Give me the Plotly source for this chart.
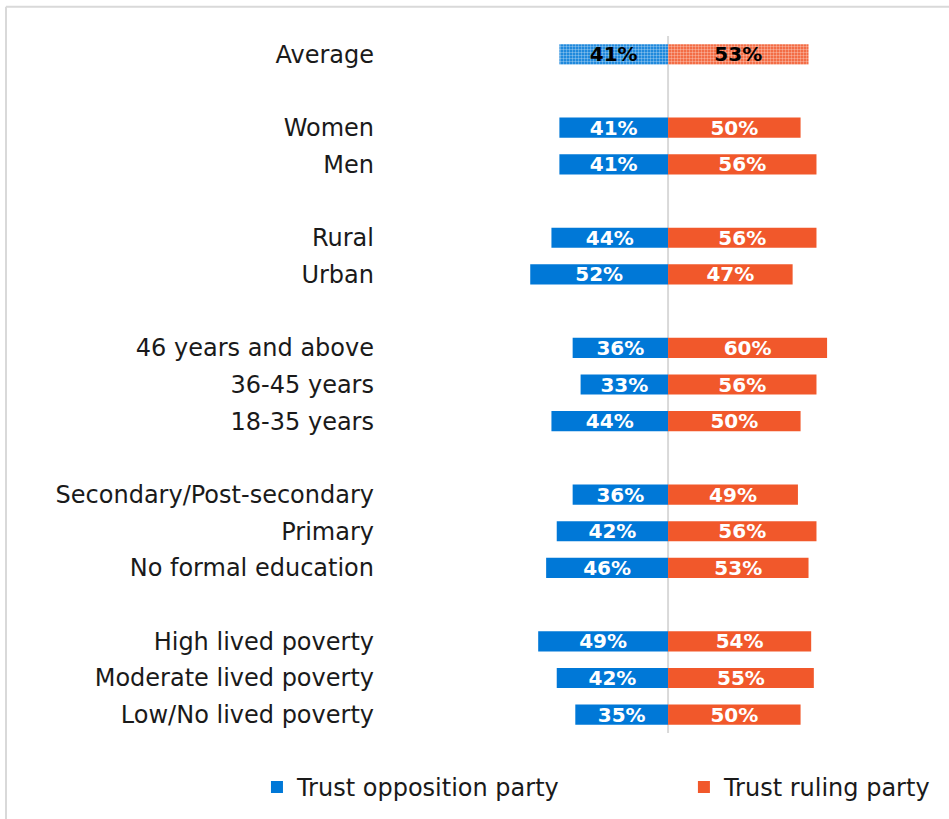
import plotly.graph_objects as go

# Survey groups (top to bottom); a blank row separates each group
categories = [
    "Average",
    "Women", "Men",
    "Rural", "Urban",
    "46 years and above", "36-45 years", "18-35 years",
    "Secondary/Post-secondary", "Primary", "No formal education",
    "High lived poverty", "Moderate lived poverty", "Low/No lived poverty",
]
group_sizes = [1, 2, 2, 3, 3, 3]
opposition = [41, 41, 41, 44, 52, 36, 33, 44, 36, 42, 46, 49, 42, 35]
ruling = [53, 50, 56, 56, 47, 60, 56, 50, 49, 56, 53, 54, 55, 50]

BLUE = "#0078D7"
RED = "#F1582B"
FONT = "DejaVu Sans"
BAR_W = 0.55

# Row slot for each category, leaving one empty slot between groups
slots = []
pos = 0
for size in group_sizes:
    for _ in range(size):
        slots.append(pos)
        pos += 1
    pos += 1
last_slot = max(slots)

avg_idx = [i for i, c in enumerate(categories) if c == "Average"]
grp_idx = [i for i, c in enumerate(categories) if c != "Average"]


def pick(values, idx):
    return [values[i] for i in idx]


def bar(name, values, idx, color, sign, text_color, patterned, legend, legend_ref):
    marker = dict(color=color, line=dict(width=0))
    if patterned:
        marker["pattern"] = dict(shape=".", fgcolor="white", bgcolor=color,
                                 size=3, solidity=0.5)
    return go.Bar(
        name=name,
        y=pick(slots, idx), x=[sign * v for v in pick(values, idx)],
        orientation="h", marker=marker,
        text=[f"{v}%" for v in pick(values, idx)],
        textposition="inside", insidetextanchor="middle", textangle=0,
        textfont=dict(family=FONT, size=20, color=text_color, weight="bold"),
        width=BAR_W, hoverinfo="skip", showlegend=legend, legend=legend_ref,
    )


fig = go.Figure()
fig.add_trace(bar("Trust opposition party", opposition, grp_idx, BLUE, -1, "white", False, True, "legend"))
fig.add_trace(bar("Trust ruling party", ruling, grp_idx, RED, 1, "white", False, True, "legend2"))
fig.add_trace(bar("Average opposition", opposition, avg_idx, BLUE, -1, "black", True, False, "legend"))
fig.add_trace(bar("Average ruling", ruling, avg_idx, RED, 1, "black", True, False, "legend2"))

# Central divider
fig.add_shape(type="line", xref="x", yref="paper", x0=0, x1=0, y0=0, y1=1,
              line=dict(color="#D9D9D9", width=2), layer="below")
# Light frame along the top and left edges
fig.add_shape(type="line", xref="paper", yref="paper", x0=-0.672, x1=1.05,
              y0=1.042, y1=1.042, line=dict(color="#D9D9D9", width=2))
fig.add_shape(type="line", xref="paper", yref="paper", x0=-0.672, x1=-0.672,
              y0=1.042, y1=-0.2, line=dict(color="#D9D9D9", width=2))

legend_style = dict(
    orientation="h", xanchor="left", y=-0.078, yanchor="middle",
    font=dict(family=FONT, size=24, color="#1a1a1a"),
    bgcolor="rgba(0,0,0,0)", itemclick=False, itemdoubleclick=False,
)

fig.update_layout(
    width=949, height=819,
    margin=dict(l=385, r=0, t=36, b=86),
    paper_bgcolor="white", plot_bgcolor="white",
    barmode="overlay",
    uniformtext=dict(minsize=20, mode="show"),
    font=dict(family=FONT, size=24, color="#1a1a1a"),
    xaxis=dict(range=[-106.8, 106.0], visible=False, fixedrange=True),
    yaxis=dict(
        range=[last_slot + 0.5, -0.5],
        tickvals=slots, ticktext=categories,
        showgrid=False, zeroline=False, showline=False,
        ticks="", ticklabelstandoff=10, automargin=False,
        tickfont=dict(family=FONT, size=24, color="#1a1a1a"),
    ),
    legend=dict(x=-0.227, **legend_style),
    legend2=dict(x=0.530, **legend_style),
    showlegend=True,
)

fig.write_html("out.html")
